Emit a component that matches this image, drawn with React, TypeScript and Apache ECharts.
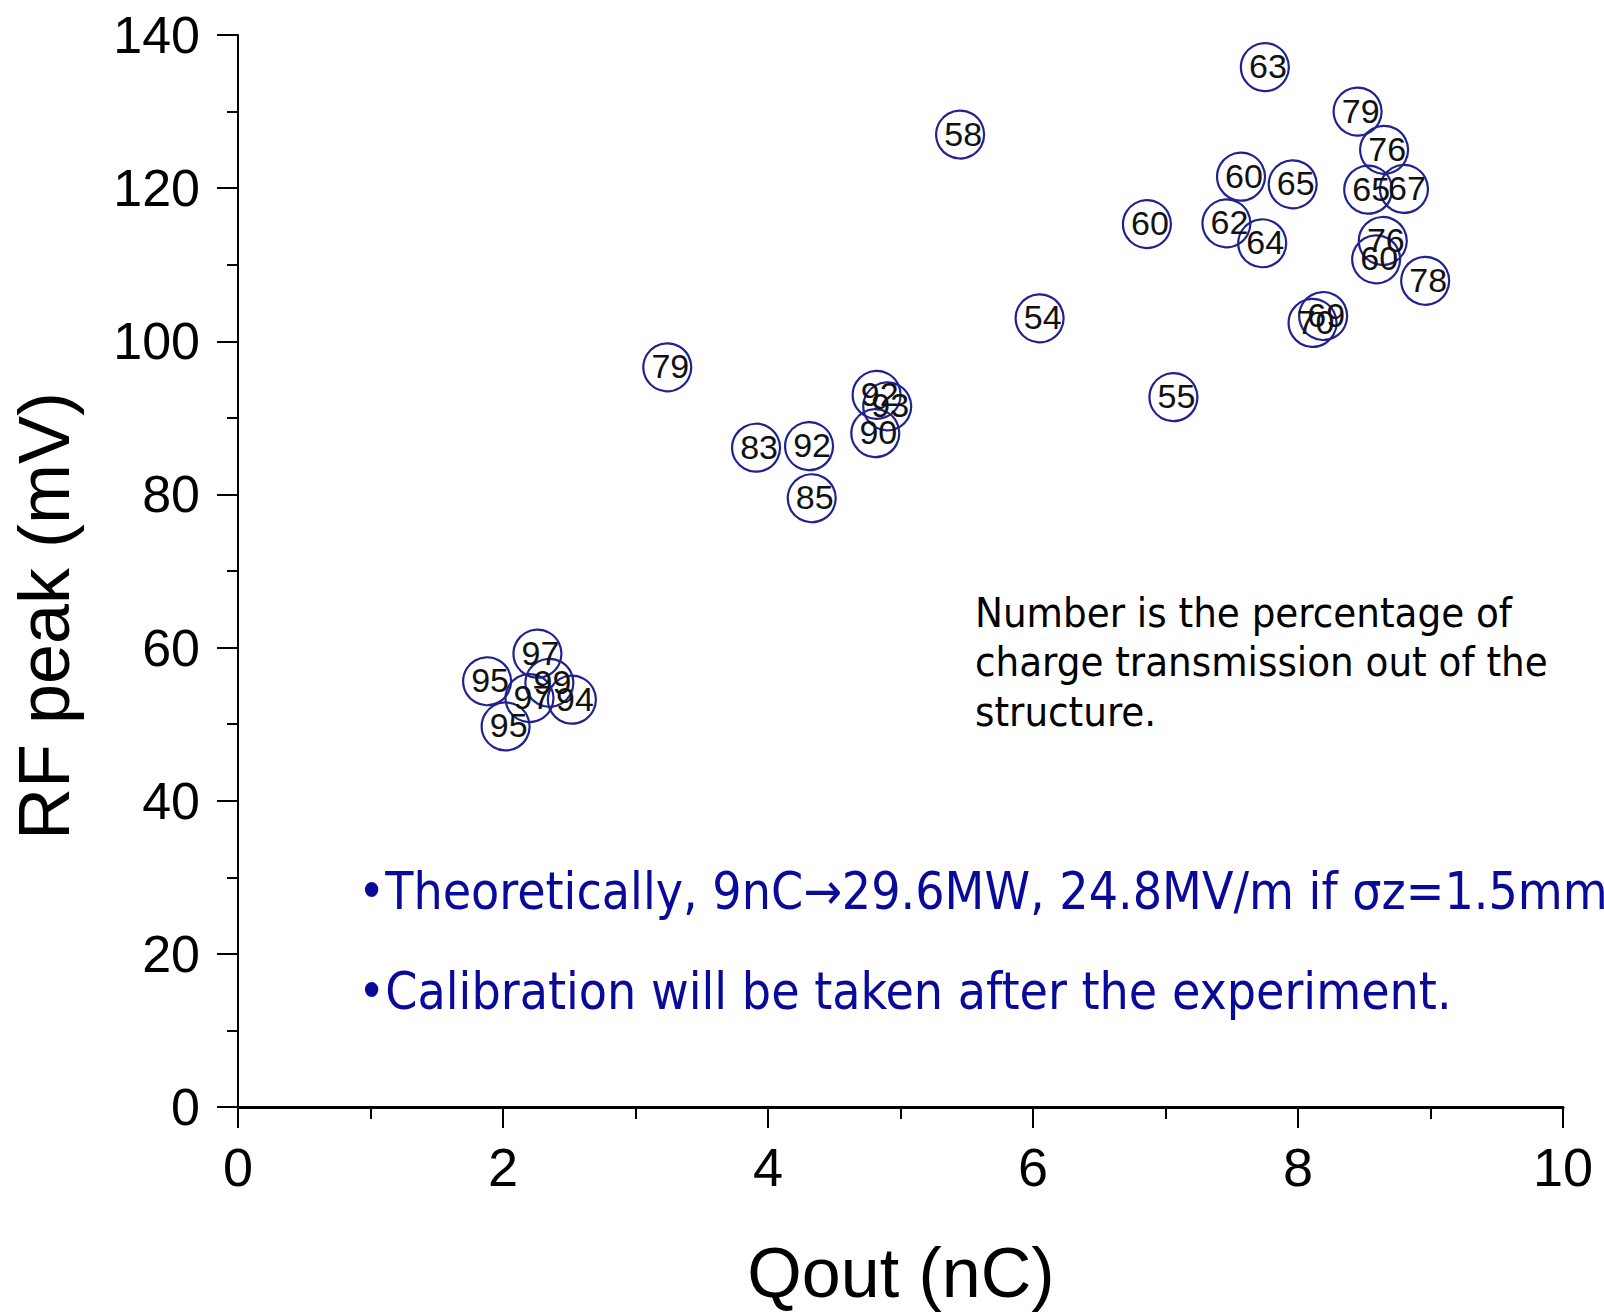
import React, { useEffect, useRef } from "react";
import * as echarts from "echarts";

// Qout (nC)
const qout = [
  7.75, 8.45, 8.65, 5.45, 7.57, 7.96, 8.53, 8.8, 6.86, 7.46, 7.73, 8.64, 8.59, 8.96, 8.19, 8.11,
  6.05, 7.06, 3.24, 4.82, 4.9, 4.81, 3.91, 4.31, 4.33, 2.26, 1.88, 2.35, 2.2, 2.52, 2.02,
];
// RF peak (mV)
const rfPeak = [
  135.8, 130.0, 125.0, 127.0, 121.5, 120.5, 119.8, 119.9, 115.3, 115.4, 112.8, 113.1, 110.7, 107.9, 103.3, 102.4,
  103.0, 92.7, 96.6, 93.0, 91.5, 88.0, 86.1, 86.3, 79.5, 59.2, 55.6, 55.4, 53.4, 53.2, 49.7,
];
// percentage of charge transmission
const transmission = [
  "63", "79", "76", "58", "60", "65", "65", "67", "60", "62", "64", "76", "60", "78", "69", "70",
  "54", "55", "79", "92", "93", "90", "83", "92", "85", "97", "95", "99", "97", "94", "95",
];

const xTicks = { min: 0, max: 10, interval: 2 };
const yTicks = { min: 0, max: 140, interval: 20 };

const noteLines = [
  "Number is the percentage of",
  "charge transmission out of the",
  "structure.",
];
const bulletLines = [
  "•Theoretically, 9nC→29.6MW, 24.8MV/m if σz=1.5mm",
  "•Calibration will be taken after the experiment.",
];

const ARIAL = "'Liberation Sans', Arial, sans-serif";
const TAHOMA = "'DejaVu Sans Condensed', 'DejaVu Sans', sans-serif";

export default function App() {
  const ref = useRef<HTMLDivElement>(null);
  useEffect(() => {
    if (!ref.current) return;
    const chart = echarts.init(ref.current, undefined, { renderer: "svg" });
    const data = qout.map((x, i) => [x, rfPeak[i], transmission[i]]);
    chart.setOption({
      animation: false,
      backgroundColor: "#ffffff",
      grid: { left: 238, top: 35, width: 1325, height: 1072, containLabel: false },
      xAxis: {
        type: "value",
        min: xTicks.min,
        max: xTicks.max,
        interval: xTicks.interval,
        axisLine: { show: true, onZero: false, lineStyle: { color: "#000", width: 3 } },
        axisTick: { show: true, inside: false, length: 21, lineStyle: { color: "#000", width: 2 } },
        minorTick: { show: true, splitNumber: 2, length: 12, lineStyle: { color: "#000", width: 2 } },
        splitLine: { show: false },
        axisLabel: { color: "#000", fontSize: 54, fontFamily: ARIAL, margin: 33 },
      },
      yAxis: {
        type: "value",
        min: yTicks.min,
        max: yTicks.max,
        interval: yTicks.interval,
        axisLine: { show: true, onZero: false, lineStyle: { color: "#000", width: 2 } },
        axisTick: { show: true, inside: false, length: 21, lineStyle: { color: "#000", width: 2 } },
        minorTick: { show: true, splitNumber: 2, length: 11, lineStyle: { color: "#000", width: 2 } },
        splitLine: { show: false },
        axisLabel: { color: "#000", fontSize: 52, fontFamily: ARIAL, margin: 38 },
      },
      series: [
        {
          type: "scatter",
          data,
          symbol: "circle",
          symbolSize: 48,
          itemStyle: { color: "rgba(0,0,0,0)", borderColor: "#22228f", borderWidth: 2.2, opacity: 1 },
          label: {
            show: true,
            position: "inside",
            offset: [3, -1],
            formatter: (p: any) => p.value[2],
            color: "#111",
            fontSize: 34,
            fontFamily: ARIAL,
          },
          emphasis: { disabled: true },
        },
      ],
      graphic: [
        {
          type: "text",
          x: 44,
          y: 616,
          rotation: Math.PI / 2,
          style: {
            text: "RF peak (mV)",
            fontSize: 72,
            fontFamily: ARIAL,
            fill: "#000",
            align: "center",
            verticalAlign: "middle",
          },
        },
        {
          type: "text",
          x: 901,
          y: 1273,
          style: {
            text: "Qout (nC)",
            fontSize: 70,
            fontFamily: ARIAL,
            fill: "#000",
            align: "center",
            verticalAlign: "middle",
          },
        },
        ...noteLines.map((t, i) => ({
          type: "text",
          x: 975,
          y: 612 + i * 49.5,
          style: {
            text: t,
            fontSize: 41.5,
            fontFamily: TAHOMA,
            fill: "#000",
            align: "left",
            verticalAlign: "middle",
          },
        })),
        ...bulletLines.map((t, i) => ({
          type: "text",
          x: 358,
          y: 891 + i * 100,
          style: {
            text: t,
            fontSize: 51.3,
            fontFamily: TAHOMA,
            fill: "#0a0a9a",
            align: "left",
            verticalAlign: "middle",
          },
        })),
      ],
    });
    return () => chart.dispose();
  }, []);
  return (
    <div
      ref={ref}
      style={{ position: "fixed", left: 0, top: 0, width: 1604, height: 1312, overflow: "hidden" }}
    />
  );
}
